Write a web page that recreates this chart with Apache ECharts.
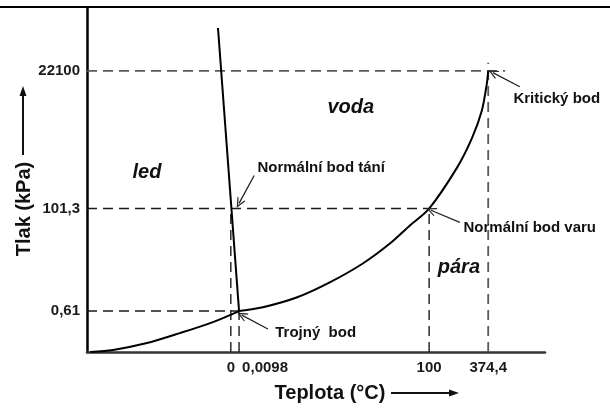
<!DOCTYPE html>
<html>
<head>
<meta charset="utf-8">
<script src="https://cdn.jsdelivr.net/npm/echarts@6/dist/echarts.min.js"></script>
<style>
  html, body { margin: 0; padding: 0; background: #fff; }
  #chart { width: 610px; height: 414px; }
</style>
</head>
<body>
<div id="chart"></div>
<script>
// phase diagram of water - schematic, axes are not to scale (0..100 along each axis)
var tempTicks = [31.4, 33.2, 74.7, 87.6]
var tempLabels = ['0', '0,0098', '100', '374,4']
var pressTicks = [11.9, 41.7, 81.7]
var pressLabels = ['0,61', '101,3', '22100']

// sublimation curve up to the triple point
var sublX = [0.7, 5.7, 13.1, 20.3, 27.5, 33.2]
var sublY = [0, 0.6, 2.6, 5.5, 8.7, 11.9]
// vaporisation curve, triple point -> critical point
var vaporX = [33.2, 38.4, 45.9, 53.1, 60.3, 66.2, 70.5, 74.7, 80.8, 84.1, 86.2, 87.3, 87.6]
var vaporY = [11.9, 13.0, 15.9, 20.3, 25.8, 31.6, 36.8, 41.7, 53.6, 62.3, 70.1, 78.0, 81.7]
// melting line from the triple point upwards
var fusionX = [33.2, 28.6]
var fusionY = [11.9, 94.2]

// dashed helper lines [x1, y1, x2, y2]
var guides = [
  [0, 81.7, 91.3, 81.7],
  [87.6, 0, 87.6, 84.1],
  [0, 41.7, 74.7, 41.7],
  [74.7, 0, 74.7, 41.7],
  [0, 11.9, 33.2, 11.9],
  [31.4, 0, 31.4, 41.7],
  [33.2, 0, 33.2, 11.9]
]
var guideGrey = [true, true, false, false, false, false, false]

var regionNames = ['led', 'voda', 'pára']
var regionX = [13.1, 57.6, 81.2]
var regionY = [52.2, 71.0, 24.6]

var noteNames = ['Kritický bod', 'Normální bod tání', 'Normální bod varu', 'Trojný  bod']
var noteX = [93.0, 37.1, 82.1, 41.0]
var noteY = [73.6, 53.6, 36.2, 5.5]
var arrowFromX = [94.5, 36.5, 81.4, 39.5]
var arrowFromY = [77.1, 51.3, 37.7, 6.7]
var arrowToX = [88.6, 33.2, 75.1, 33.8]
var arrowToY = [81.2, 43.2, 41.2, 10.7]

var FONT = '"Liberation Sans", Arial, sans-serif'
var chevron = 'path://M0,10 L5,0 L10,10 L8.6,10 L5,3 L1.4,10 Z'

function pick(list, labels, v) {
  for (var i = 0; i < list.length; i++) {
    if (Math.abs(list[i] - v) < 0.01) return labels[i]
  }
  return ''
}

function pairs(xs, ys) {
  return xs.map(function (x, i) { return [x, ys[i]] })
}

var chart = echarts.init(document.getElementById('chart'))

var series = []

guides.forEach(function (g, i) {
  series.push({
    type: 'line',
    data: [[g[0], g[1]], [g[2], g[3]]],
    symbol: 'none',
    silent: true,
    lineStyle: {
      color: guideGrey[i] ? '#5a5a5a' : '#1a1a1a',
      width: guideGrey[i] ? 1.8 : 1.4,
      type: [10, 6]
    },
    z: 2
  })
})

series.push({
  type: 'line',
  data: pairs(sublX, sublY),
  smooth: 0.3,
  symbol: 'none',
  lineStyle: { color: '#000', width: 2 },
  z: 3
})
series.push({
  type: 'line',
  data: pairs(vaporX, vaporY),
  smooth: 0.3,
  symbol: 'none',
  lineStyle: { color: '#000', width: 2 },
  z: 3
})
series.push({
  type: 'line',
  data: pairs(fusionX, fusionY),
  symbol: 'none',
  lineStyle: { color: '#000', width: 2 },
  z: 3
})

series.push({
  type: 'scatter',
  data: regionNames.map(function (n, i) { return { name: n, value: [regionX[i], regionY[i]] } }),
  symbolSize: 1,
  itemStyle: { color: 'rgba(0,0,0,0)', opacity: 1 },
  clip: false,
  label: {
    show: true,
    position: 'inside',
    formatter: '{b}',
    color: '#111',
    fontFamily: FONT,
    fontSize: 20,
    fontWeight: 'bold',
    fontStyle: 'italic'
  },
  z: 4
})

series.push({
  type: 'scatter',
  data: noteNames.map(function (n, i) { return { name: n, value: [noteX[i], noteY[i]] } }),
  symbolSize: 1,
  itemStyle: { color: 'rgba(0,0,0,0)', opacity: 1 },
  clip: false,
  label: {
    show: true,
    position: 'right',
    distance: 0,
    formatter: '{b}',
    color: '#111',
    fontFamily: FONT,
    fontSize: 15,
    fontWeight: 'bold'
  },
  markLine: {
    silent: true,
    symbol: ['none', chevron],
    symbolSize: [9, 10],
    label: { show: false },
    lineStyle: { color: '#222', width: 1.3, type: 'solid', opacity: 1 },
    itemStyle: { opacity: 1 },
    data: arrowFromX.map(function (x, i) {
      return [{ coord: [x, arrowFromY[i]] }, { coord: [arrowToX[i], arrowToY[i]] }]
    })
  },
  z: 5
})

chart.setOption({
  backgroundColor: '#fff',
  animation: false,
  grid: { left: 87, right: 65, top: 8, bottom: 62 },
  xAxis: {
    type: 'value',
    min: 0,
    max: 100,
    splitLine: { show: false },
    axisTick: { show: false },
    axisLine: { show: true, lineStyle: { color: '#333', width: 2.5 } },
    axisLabel: {
      customValues: tempTicks,
      margin: 8,
      color: '#1a1a1a',
      fontFamily: FONT,
      fontSize: 15,
      fontWeight: 'bold',
      formatter: function (v) {
        var t = pick(tempTicks, tempLabels, v)
        return t === '0,0098' ? '{l|' + t + '}' : t
      },
      rich: {
        l: { padding: [0, 0, 0, 52], fontFamily: FONT, fontSize: 15, fontWeight: 'bold', color: '#1a1a1a' }
      }
    }
  },
  yAxis: {
    type: 'value',
    min: 0,
    max: 100,
    splitLine: { show: false },
    axisTick: { show: false },
    axisLine: { show: true, lineStyle: { color: '#000', width: 2.5 } },
    axisLabel: {
      customValues: pressTicks,
      margin: 7,
      color: '#1a1a1a',
      fontFamily: FONT,
      fontSize: 15,
      fontWeight: 'bold',
      formatter: function (v) { return pick(pressTicks, pressLabels, v) }
    }
  },
  graphic: [
    { type: 'line', shape: { x1: 0, y1: 7, x2: 610, y2: 7 }, style: { stroke: '#000', lineWidth: 2 } },
    {
      type: 'text', x: 24, y: 209, rotation: Math.PI / 2,
      style: { text: 'Tlak (kPa)', font: 'bold 20px ' + FONT, fill: '#111', align: 'center', verticalAlign: 'middle' }
    },
    { type: 'line', shape: { x1: 23, y1: 155, x2: 23, y2: 93 }, style: { stroke: '#111', lineWidth: 2 } },
    { type: 'polygon', shape: { points: [[23, 86], [19.5, 96], [26.5, 96]] }, style: { fill: '#111' } },
    {
      type: 'text', x: 330, y: 393,
      style: { text: 'Teplota (°C)', font: 'bold 20px ' + FONT, fill: '#111', align: 'center', verticalAlign: 'middle' }
    },
    { type: 'line', shape: { x1: 391, y1: 393, x2: 452, y2: 393 }, style: { stroke: '#111', lineWidth: 2 } },
    { type: 'polygon', shape: { points: [[459, 393], [449, 389.5], [449, 396.5]] }, style: { fill: '#111' } }
  ],
  series: series
})
</script>
</body>
</html>
